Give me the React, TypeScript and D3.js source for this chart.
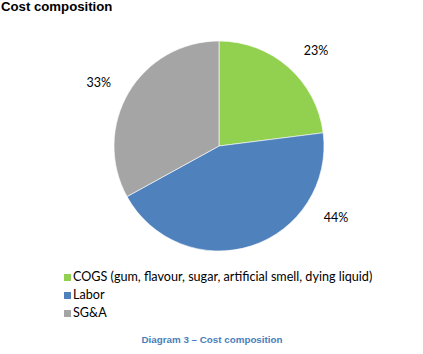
import { useEffect, useRef } from 'react';
import * as d3 from 'd3';

const categories = ['COGS (gum, flavour, sugar, artificial smell, dying liquid)', 'Labor', 'SG&A'];
const shares = [23, 44, 33];
const colors = ['#92d050', '#4f81bd', '#a5a5a5'];

const App = () => {
  const svgRef = useRef<SVGSVGElement>(null);

  useEffect(() => {
    const svg = d3.select(svgRef.current);
    svg.selectAll('*').remove();

    const width = 423;
    const height = 354;
    const cx = 219;
    const cy = 146;
    const radius = 105;

    svg.attr('width', width).attr('height', height);

    svg.append('rect').attr('width', width).attr('height', height).attr('fill', '#fff');

    // Title
    svg.append('text')
      .attr('x', 1)
      .attr('y', 10.8)
      .style('font-family', 'Liberation Sans, Arial, sans-serif')
      .style('font-weight', 'bold')
      .style('font-size', '13.2px')
      .style('fill', '#000')
      .text('Cost composition');

    const pie = d3.pie<number>().sort(null).value(d => d);
    const arcs = pie(shares);

    const arc = d3.arc<d3.PieArcDatum<number>>()
      .innerRadius(0)
      .outerRadius(radius);

    const g = svg.append('g').attr('transform', `translate(${cx},${cy})`);

    g.selectAll('path')
      .data(arcs)
      .enter().append('path')
      .attr('d', arc)
      .attr('fill', (d, i) => colors[i])
      .attr('stroke', '#ffffff')
      .attr('stroke-width', 0.6);

    // Labels (Excel best-fit style, nudged angles)
    const labelRadius = [136, 137, 136];
    const angleShift = [0.073, -0.708, -0.047];
    g.selectAll('.lbl')
      .data(arcs)
      .enter().append('text')
      .attr('class', 'lbl')
      .attr('transform', (d, i) => {
        const a = (d.startAngle + d.endAngle) / 2 + angleShift[i];
        const r = labelRadius[i];
        return `translate(${Math.sin(a) * r},${-Math.cos(a) * r})`;
      })
      .attr('text-anchor', 'middle')
      .attr('dy', '0.35em')
      .style('font-family', 'Lato, Carlito, sans-serif')
      .style('font-size', '12.5px')
      .style('fill', '#000')
      .text(d => `${d.data}%`);

    // Legend
    const legend = svg.append('g').attr('transform', 'translate(64, 274)');
    const items = legend.selectAll('.legend-item')
      .data(categories)
      .enter().append('g')
      .attr('class', 'legend-item')
      .attr('transform', (d, i) => `translate(0, ${i * 18})`);

    items.append('rect')
      .attr('width', 7)
      .attr('height', 7)
      .attr('fill', (d, i) => colors[i]);

    items.append('text')
      .attr('x', 9)
      .attr('y', 7)
      .style('font-family', 'Lato, Carlito, sans-serif')
      .style('font-size', '12.6px')
      .style('fill', '#000')
      .text(d => d);

    // Caption
    svg.append('text')
      .attr('x', 212)
      .attr('y', 343)
      .attr('text-anchor', 'middle')
      .style('font-family', 'Liberation Sans, Arial, sans-serif')
      .style('font-weight', 'bold')
      .style('font-size', '9.8px')
      .style('fill', '#4a7ebb')
      .text('Diagram 3 – Cost composition');
  }, []);

  return (
    <div style={{ position: 'absolute', left: 0, top: 0 }}>
      <svg ref={svgRef} style={{ display: 'block' }}></svg>
    </div>
  );
};

export default App;
